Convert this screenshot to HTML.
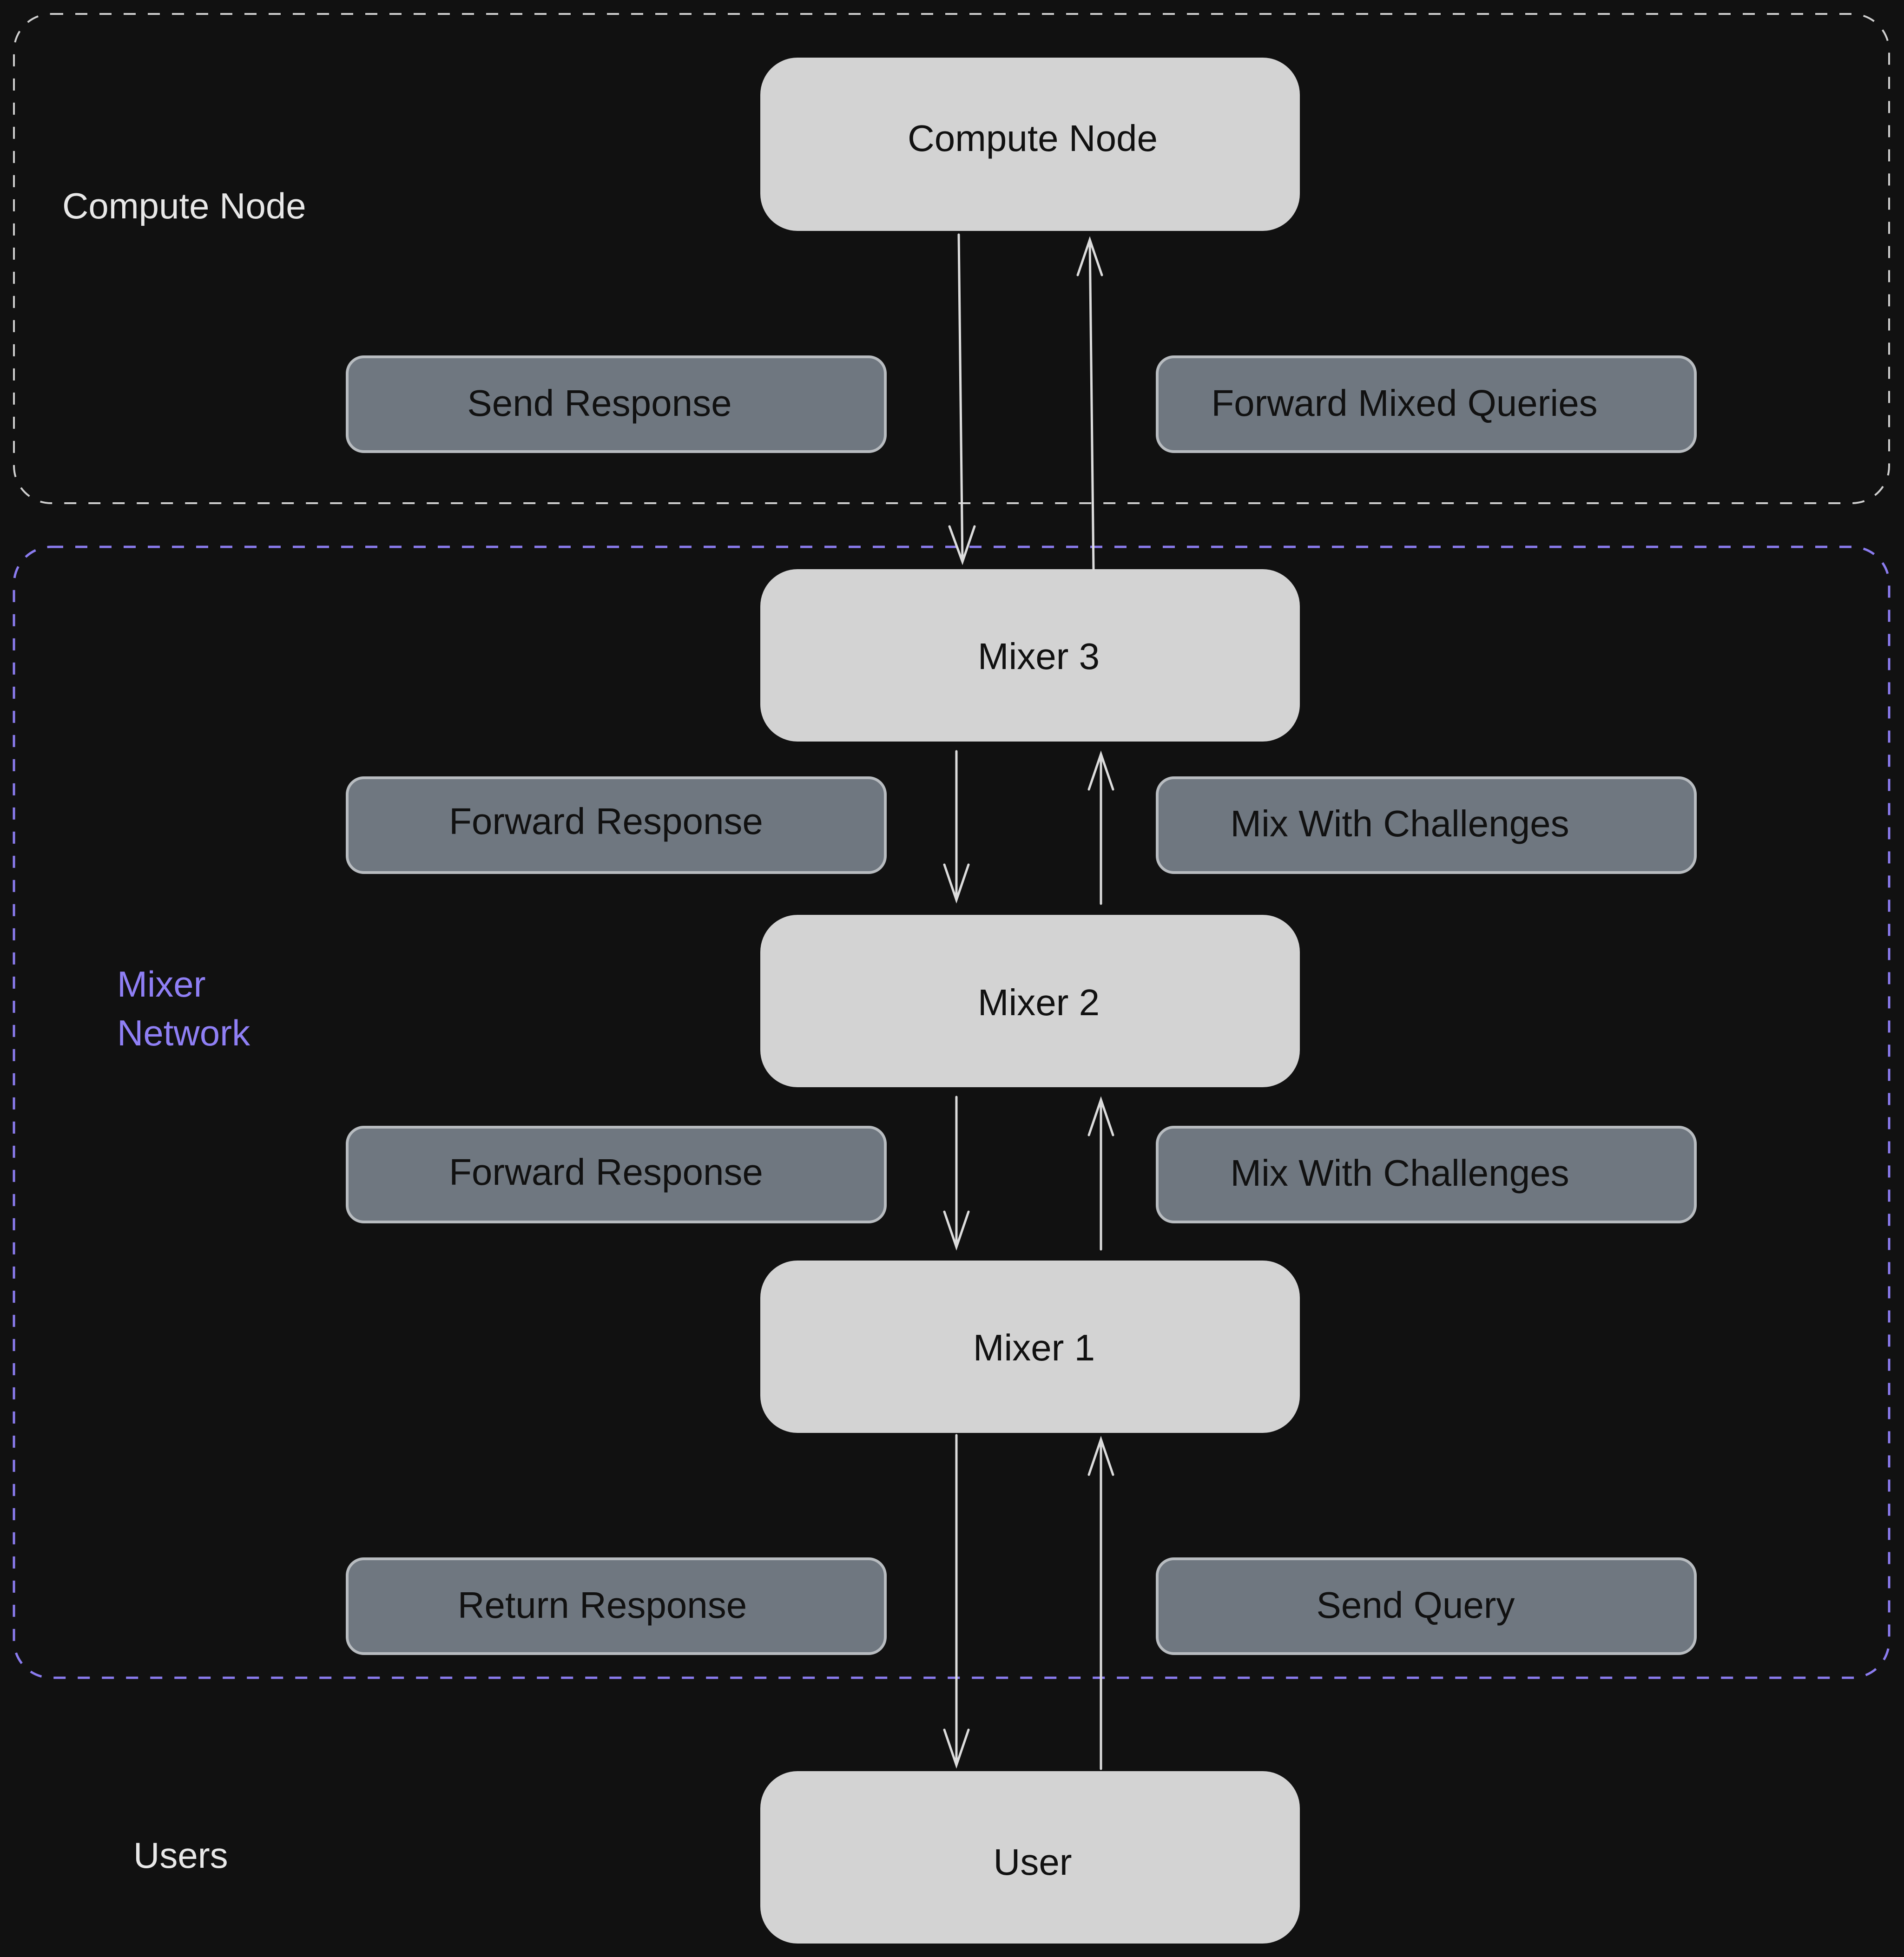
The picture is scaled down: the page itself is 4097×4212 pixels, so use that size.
<!DOCTYPE html>
<html><head><meta charset="utf-8"><style>
html,body{margin:0;padding:0;background:#111111;}
svg{display:block;}
text{font-family:"Liberation Sans",sans-serif;}
</style></head><body>
<svg width="4097" height="4212" viewBox="0 0 4097 4212" xmlns="http://www.w3.org/2000/svg">
<rect width="4097" height="4212" fill="#111111"/>
<!-- groups -->
<rect x="30" y="30" width="4035" height="1053" rx="80" fill="none" stroke="#d0d0d0" stroke-width="4" stroke-dasharray="26 26"/>
<rect x="30" y="1177" width="4035" height="2434" rx="80" fill="none" stroke="#8b7cf0" stroke-width="5" stroke-dasharray="26 26"/>
<g font-size="78" fill="#e8e8e8">
<text x="134" y="470">Compute Node</text>
<text x="287" y="4020">Users</text>
</g>
<g font-size="78" fill="#8f7ff5">
<text x="252" y="2145">Mixer</text>
<text x="252" y="2250">Network</text>
</g>
<!-- nodes -->
<g fill="#d3d3d3">
<rect x="1636" y="124" width="1161" height="373" rx="80"/>
<rect x="1636" y="1225" width="1161" height="371" rx="80"/>
<rect x="1636" y="1969" width="1161" height="371" rx="80"/>
<rect x="1636" y="2713" width="1161" height="371" rx="80"/>
<rect x="1636" y="3812" width="1161" height="371" rx="80"/>
</g>
<g font-size="80" fill="#111" text-anchor="middle">
<text x="2222" y="325">Compute Node</text>
<text x="2235" y="1440">Mixer 3</text>
<text x="2235" y="2185">Mixer 2</text>
<text x="2225" y="2928">Mixer 1</text>
<text x="2222" y="4035">User</text>
</g>
<!-- labels -->
<g fill="#6f7780" stroke="#b8bcc0" stroke-width="6">
<rect x="747" y="768" width="1158" height="204" rx="36"/>
<rect x="2490" y="768" width="1158" height="204" rx="36"/>
<rect x="747" y="1674" width="1158" height="204" rx="36"/>
<rect x="2490" y="1674" width="1158" height="204" rx="36"/>
<rect x="747" y="2426" width="1158" height="204" rx="36"/>
<rect x="2490" y="2426" width="1158" height="204" rx="36"/>
<rect x="747" y="3355" width="1158" height="204" rx="36"/>
<rect x="2490" y="3355" width="1158" height="204" rx="36"/>
</g>
<g font-size="80" fill="#111" text-anchor="middle">
<text x="1290" y="895">Send Response</text>
<text x="3022" y="895">Forward Mixed Queries</text>
<text x="1304" y="1795">Forward Response</text>
<text x="3012" y="1800">Mix With Challenges</text>
<text x="1304" y="2550">Forward Response</text>
<text x="3012" y="2552">Mix With Challenges</text>
<text x="1296" y="3482">Return Response</text>
<text x="3046" y="3482">Send Query</text>
</g>
<!-- arrows -->
<g stroke="#dcdcdc" stroke-width="5" fill="none" stroke-linecap="round">
<path d="M2063 505 L2071 1209 M2043 1133 L2071 1209 L2097 1133"/>
<path d="M2353 1225 L2345 516 M2319 592 L2345 516 L2371 592"/>
<path d="M2058 1617 L2058 1937 M2032 1861 L2058 1937 L2084 1861"/>
<path d="M2369 1945 L2369 1623 M2343 1699 L2369 1623 L2395 1699"/>
<path d="M2058 2361 L2058 2684 M2032 2608 L2058 2684 L2084 2608"/>
<path d="M2369 2689 L2369 2367 M2343 2443 L2369 2367 L2395 2443"/>
<path d="M2058 3089 L2058 3799 M2032 3723 L2058 3799 L2084 3723"/>
<path d="M2369 3807 L2369 3098 M2343 3174 L2369 3098 L2395 3174"/>
</g>
</svg>
</body></html>
